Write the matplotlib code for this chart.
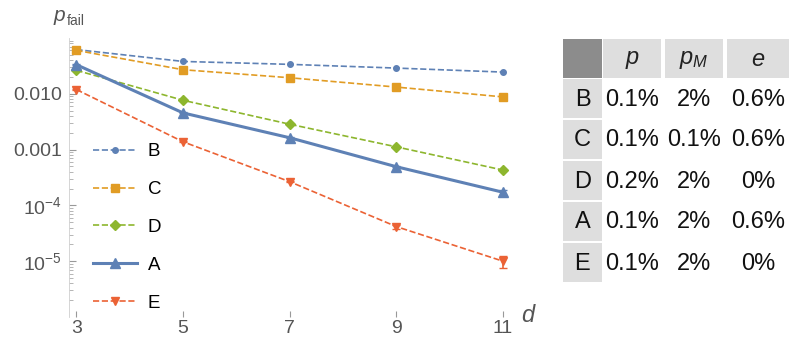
import matplotlib
matplotlib.use("Agg")
import matplotlib.pyplot as plt
from matplotlib.patches import Rectangle
from matplotlib.lines import Line2D
from matplotlib.ticker import FixedLocator, LogLocator, NullFormatter

plt.rcParams['font.family'] = ['Liberation Sans', 'DejaVu Sans']
plt.rcParams['mathtext.fontset'] = 'custom'
plt.rcParams['mathtext.rm'] = 'Liberation Sans'
plt.rcParams['mathtext.it'] = 'Liberation Sans:italic'

d = [3, 5, 7, 9, 11]
series_names = ['B', 'C', 'D', 'A', 'E']
B = [0.062, 0.038, 0.0337, 0.0289, 0.0245]
C = [0.060, 0.027, 0.0194, 0.0132, 0.0088]
D = [0.0263, 0.00765, 0.00285, 0.00112, 0.00043]
A = [0.0332, 0.00454, 0.00163, 0.000493, 0.000172]
E = [0.0119, 0.00138, 0.000266, 4.17e-5, 1.0e-5]
A_err = [0.0006, 0.0001, 0.00003, 0.00001, 1.6e-5]
E_err = [0.0002, 0.00003, 0.000008, 3.5e-6, 2.3e-6]

table_cols = ['p', 'p_M', 'e']
table_rows = ['B', 'C', 'D', 'A', 'E']
table_p = ['0.1%', '0.1%', '0.2%', '0.1%', '0.1%']
table_pM = ['2%', '0.1%', '2%', '2%', '2%']
table_e = ['0.6%', '0.6%', '0%', '0.6%', '0%']

blue = '#5E81B5'
orange = '#E19C24'
green = '#8DB62E'
red = '#EB6235'

W, H = 791, 339
fig = plt.figure(figsize=(W / 100, H / 100), dpi=100)
ax = fig.add_axes([69 / W, (H - 317) / H, (511 - 69) / W, (317 - 38) / H])
ax.set_yscale('log')
ax.set_xlim(2.86, 11.15)
ax.set_ylim(1e-6, 0.1)

styles = {
    'B': dict(color=blue, marker='o', ms=4, ls='--', lw=1.2),
    'C': dict(color=orange, marker='s', ms=6, ls='--', lw=1.2),
    'D': dict(color=green, marker='D', ms=5.5, ls='--', lw=1.2),
    'A': dict(color=blue, marker='^', ms=7, ls='-', lw=2.2),
    'E': dict(color=red, marker='v', ms=6, ls='--', lw=1.2),
}
ax.plot(d, B, **styles['B'])
ax.plot(d, C, **styles['C'])
ax.plot(d, D, **styles['D'])
ax.errorbar(d, A, yerr=A_err, capsize=3, elinewidth=1.2, **styles['A'])
ax.errorbar(d, E, yerr=E_err, capsize=3, elinewidth=1.2, **styles['E'])

gray = '#555555'
for s in ['top', 'right', 'bottom']:
    ax.spines[s].set_visible(False)
ax.spines['left'].set_color('#cfcfcf')
ax.spines['left'].set_linewidth(0.6)

ax.set_xticks(d)
ax.set_xticklabels([str(v) for v in d])
ax.tick_params(axis='x', direction='in', length=4, width=0.8, color='#999999',
               labelsize=14, labelcolor=gray, pad=2)
ax.yaxis.set_major_locator(FixedLocator([1e-5, 1e-4, 1e-3, 1e-2]))
ax.set_yticklabels(['$10^{-5}$', '$10^{-4}$', '0.001', '0.010'])
ax.yaxis.set_minor_locator(LogLocator(base=10, subs=[2, 3, 4, 5, 6, 7, 8, 9], numticks=20))
ax.yaxis.set_minor_formatter(NullFormatter())
ax.tick_params(axis='y', which='major', direction='in', length=5, width=0.8,
               color='#999999', labelsize=14, labelcolor=gray, pad=5)
ax.tick_params(axis='y', which='minor', direction='in', length=3, width=0.6,
               color='#aaaaaa')

fig.text(54 / W, 1 - 21 / H, 'p', fontsize=15, color=gray, ha='left', va='baseline',
         fontstyle='italic')
fig.text(67 / W, 1 - 25 / H, 'fail', fontsize=10, color=gray, ha='left', va='baseline')
fig.text(521 / W, 1 - 322 / H, 'd', fontsize=17, color=gray, ha='left', va='baseline',
         fontstyle='italic')

handles = [Line2D([], [], **styles[n]) for n in series_names]
leg = ax.legend(handles, series_names,
                loc='upper left', bbox_to_anchor=((84 - 69) / 442, (317 - 134) / 279),
                frameon=False, fontsize=13.5, handlelength=2.3, handletextpad=0.6,
                labelspacing=1.1, borderpad=0)

# table
tax = fig.add_axes([0, 0, 1, 1])
tax.set_xlim(0, W)
tax.set_ylim(H, 0)
tax.axis('off')
col_x = [563, 603, 665, 727]
col_w = [39, 60, 60, 64]
row_y0 = 39
row_h = 41
hdr_txt = ['$p$', '$p_M$', '$e$']
tax.add_patch(Rectangle((col_x[0], row_y0), col_w[0], 39, color='#8c8c8c', lw=0))
for j in range(3):
    tax.add_patch(Rectangle((col_x[j + 1], row_y0), col_w[j + 1] - 2, 39,
                            color='#dedede', lw=0))
    tax.text(col_x[j + 1] + col_w[j + 1] / 2 - 1, row_y0 + 21, hdr_txt[j],
             fontsize=17, ha='center', va='center', color='#222222')
cols_vals = [table_p, table_pM, table_e]
for i, r in enumerate(table_rows):
    y0 = 79 + i * row_h
    tax.add_patch(Rectangle((col_x[0], y0), col_w[0], row_h - 2, color='#dedede', lw=0))
    tax.text(col_x[0] + col_w[0] / 2, y0 + row_h / 2, r, fontsize=17,
             ha='center', va='center', color='#111111')
    for j in range(3):
        tax.text(col_x[j + 1] + col_w[j + 1] / 2 - 1, y0 + row_h / 2, cols_vals[j][i],
                 fontsize=17, ha='center', va='center', color='#111111')

fig.savefig('out.png', dpi=100)
